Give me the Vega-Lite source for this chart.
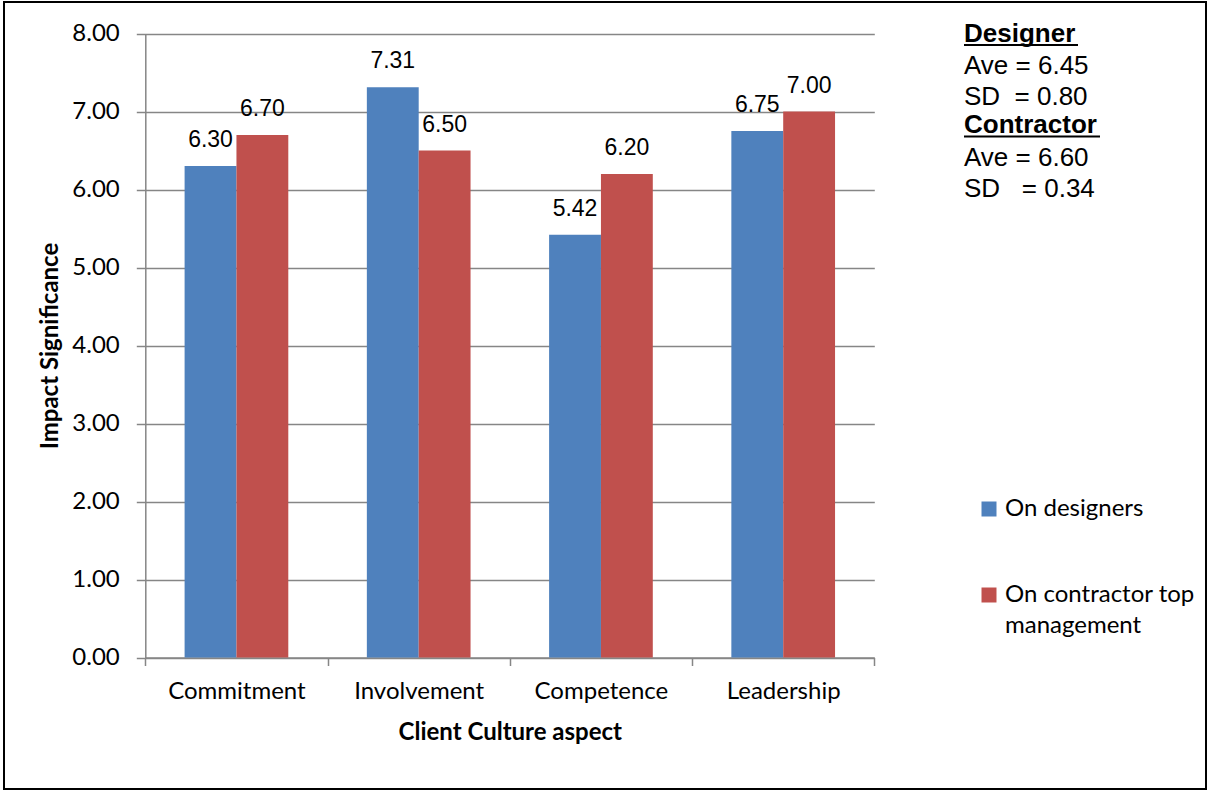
{
  "$schema": "https://vega.github.io/schema/vega-lite/v6.json",
  "width": 1202,
  "height": 787,
  "autosize": {"type": "none"},
  "padding": {"left": 4, "top": 2, "right": 2, "bottom": 2},
  "background": "white",
  "config": {
    "view": {"stroke": "#000000", "strokeWidth": 2},
    "font": "Lato",
    "style": {"guide-label": {"lineHeight": 31}}
  },
  "data": {
    "values": [
      {"aspect": "Commitment", "series": "On designers", "value": 6.30},
      {"aspect": "Commitment", "series": "On contractor top management", "value": 6.70},
      {"aspect": "Involvement", "series": "On designers", "value": 7.31},
      {"aspect": "Involvement", "series": "On contractor top management", "value": 6.50},
      {"aspect": "Competence", "series": "On designers", "value": 5.42},
      {"aspect": "Competence", "series": "On contractor top management", "value": 6.20},
      {"aspect": "Leadership", "series": "On designers", "value": 6.75},
      {"aspect": "Leadership", "series": "On contractor top management", "value": 7.00}
    ]
  },
  "layer": [
    {
      "encoding": {
        "x": {
          "field": "aspect",
          "type": "nominal",
          "sort": ["Commitment", "Involvement", "Competence", "Leadership"],
          "scale": {"range": [141.3, 870.3], "paddingInner": 0, "paddingOuter": 0},
          "axis": {
            "title": "Client Culture aspect",
            "labelAngle": 0,
            "tickBand": "extent",
            "grid": false,
            "offset": -131.5,
            "domainColor": "#868686",
            "domainWidth": 1.5,
            "tickColor": "#868686",
            "tickWidth": 1.5,
            "tickSize": 8,
            "labelFont": "Lato",
            "labelFontSize": 24,
            "labelColor": "#000000",
            "labelPadding": 14,
            "titleFont": "Lato",
            "titleFontSize": 24,
            "titleFontWeight": "bold",
            "titleColor": "#000000",
            "titlePadding": 17
          }
        },
        "xOffset": {
          "field": "series",
          "sort": ["On designers", "On contractor top management"],
          "scale": {"range": [39.3, 143.0], "paddingInner": 0, "paddingOuter": 0}
        },
        "y": {
          "field": "value",
          "type": "quantitative",
          "scale": {"domain": [0, 8], "range": [655.5, 31.5], "nice": false, "zero": true},
          "axis": {
            "title": "Impact Significance",
            "values": [0, 1, 2, 3, 4, 5, 6, 7, 8],
            "format": ".2f",
            "grid": true,
            "gridColor": "#868686",
            "gridWidth": 1.5,
            "offset": -141.3,
            "domainColor": "#868686",
            "domainWidth": 1.5,
            "tickColor": "#868686",
            "tickWidth": 1.5,
            "tickSize": 9,
            "labelFont": "Lato",
            "labelFontSize": 24,
            "labelColor": "#000000",
            "labelPadding": 17,
            "titleFont": "Lato",
            "titleFontSize": 24,
            "titleFontWeight": "bold",
            "titleColor": "#000000",
            "titlePadding": 9
          }
        }
      },
      "layer": [
        {
          "mark": {"type": "bar"},
          "encoding": {
            "color": {
              "field": "series",
              "type": "nominal",
              "sort": ["On designers", "On contractor top management"],
              "scale": {"domain": ["On designers", "On contractor top management"], "range": ["#4F81BD", "#C0504D"]},
              "legend": {
                "title": null,
                "orient": "none",
                "legendX": 973,
                "legendY": 495,
                "padding": 0,
                "symbolType": "square",
                "symbolSize": 225,
                "symbolStrokeWidth": 0,
                "labelFont": "Lato",
                "labelFontSize": 24,
                "labelColor": "#000000",
                "labelOffset": 4,
                "rowPadding": 62,
                "labelLimit": 300,
                "labelExpr": "datum.label == 'On contractor top management' ? ['On contractor top', 'management'] : datum.label"
              }
            }
          }
        },
        {
          "mark": {"type": "text", "baseline": "alphabetic", "dy": -19, "font": "Liberation Sans", "fontSize": 23, "color": "#000000"},
          "encoding": {
            "text": {"field": "value", "type": "quantitative", "format": ".2f"}
          }
        }
      ]
    },
    {
      "data": {"values": [{}]},
      "mark": {"type": "text", "align": "left", "baseline": "alphabetic", "font": "Liberation Sans", "fontSize": 26, "fontWeight": "bold", "color": "#000000"},
      "encoding": {
        "x": {"value": 960},
        "y": {"datum": 7.895},
        "text": {"value": "Designer"}
      }
    },
    {
      "data": {"values": [{}]},
      "mark": {"type": "text", "align": "left", "baseline": "alphabetic", "font": "Liberation Sans", "fontSize": 26, "lineHeight": 31, "color": "#000000"},
      "encoding": {
        "x": {"value": 960},
        "y": {"datum": 7.481},
        "text": {"value": ["Ave = 6.45", "SD\u00a0 = 0.80"]}
      }
    },
    {
      "data": {"values": [{}]},
      "mark": {"type": "text", "align": "left", "baseline": "alphabetic", "font": "Liberation Sans", "fontSize": 26, "fontWeight": "bold", "color": "#000000"},
      "encoding": {
        "x": {"value": 960},
        "y": {"datum": 6.721},
        "text": {"value": "Contractor"}
      }
    },
    {
      "data": {"values": [{}]},
      "mark": {"type": "text", "align": "left", "baseline": "alphabetic", "font": "Liberation Sans", "fontSize": 26, "lineHeight": 31, "color": "#000000"},
      "encoding": {
        "x": {"value": 960},
        "y": {"datum": 6.305},
        "text": {"value": ["Ave = 6.60", "SD\u00a0\u00a0 = 0.34"]}
      }
    },
    {
      "data": {"values": [{}]},
      "mark": {"type": "rule", "color": "#000000", "strokeWidth": 2},
      "encoding": {
        "x": {"value": 960},
        "x2": {"value": 1074},
        "y": {"datum": 7.853}
      }
    },
    {
      "data": {"values": [{}]},
      "mark": {"type": "rule", "color": "#000000", "strokeWidth": 2},
      "encoding": {
        "x": {"value": 960},
        "x2": {"value": 1096},
        "y": {"datum": 6.679}
      }
    }
  ]
}
